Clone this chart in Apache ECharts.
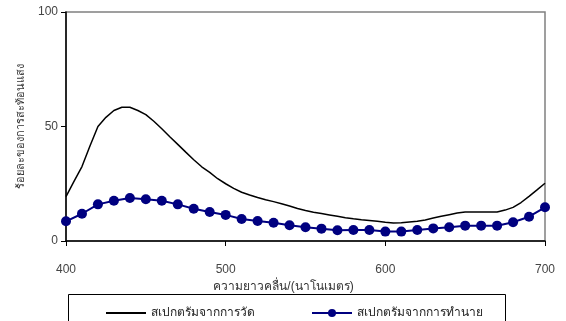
<!DOCTYPE html>
<html><head><meta charset="utf-8">
<script src="https://cdn.jsdelivr.net/npm/echarts@6/dist/echarts.min.js"></script>
<style>html,body{margin:0;padding:0;background:#fff}#c{width:566px;height:321px}</style>
</head><body><div id="c"></div>
<script>
const measuredName = 'สเปกตรัมจากการวัด';
const predictedName = 'สเปกตรัมจากการทำนาย';
const xTitle = 'ความยาวคลื่น/(นาโนเมตร)';
const yTitle = 'ร้อยละของการสะท้อนแสง';

const measuredWl = [400,405,410,415,420,425,430,435,440,445,450,455,460,465,470,475,480,485,490,495,500,505,510,515,520,525,530,535,540,545,550,555,560,565,570,575,580,585,590,595,600,605,610,615,620,625,630,635,640,645,650,655,660,665,670,675,680,685,690,695,700];
const measuredVal = [19.4,26,32.5,41.5,50,54,57,58.4,58.4,57,55.2,52.3,49,45.5,42.2,38.8,35.5,32.4,30,27.2,25,23,21.3,20.1,19,18,17.2,16.3,15.3,14.2,13.3,12.6,12,11.4,10.8,10.2,9.7,9.3,9,8.6,8.2,7.9,8,8.3,8.6,9.2,10,10.8,11.5,12.2,12.7,12.7,12.7,12.7,12.7,13.5,14.7,16.8,19.5,22.3,25.2];

const predictedWl = [400,410,420,430,440,450,460,470,480,490,500,510,520,530,540,550,560,570,580,590,600,610,620,630,640,650,660,670,680,690,700];
const predictedVal = [8.6,11.9,16.0,17.6,18.8,18.2,17.6,16.0,14.1,12.7,11.4,9.6,8.7,8.0,6.9,6.0,5.4,4.7,4.8,4.8,4.1,4.1,4.8,5.5,6.0,6.7,6.7,6.7,8.2,10.6,14.7];

const xTicks = [400,500,600,700];
const yTicks = [0,50,100];

const chart = echarts.init(document.getElementById('c'));
const font = 'Liberation Sans, Arial, sans-serif';
chart.setOption({
  animation: false,
  backgroundColor: '#fff',
  textStyle: {fontFamily: font},
  grid: {left: 66, right: 21, top: 12, bottom: 80, show: true, borderColor: '#808080', borderWidth: 1.5},
  xAxis: {
    type: 'value', min: xTicks[0], max: xTicks[xTicks.length-1], interval: 100,
    name: xTitle, nameLocation: 'middle', nameGap: 35,
    nameTextStyle: {color: '#333', fontSize: 12, padding: [0, 44, 0, 0], fontFamily: font},
    axisLine: {show: true, lineStyle: {color: '#000', width: 1.5}},
    axisTick: {show: true, length: 5, inside: false, lineStyle: {color: '#000'}},
    axisLabel: {color: '#444', fontSize: 12, margin: 23, fontFamily: font},
    splitLine: {show: false}
  },
  yAxis: {
    type: 'value', min: yTicks[0], max: yTicks[yTicks.length-1], interval: 50,
    name: yTitle, nameLocation: 'middle', nameGap: 40, nameRotate: 90,
    nameTextStyle: {color: '#333', fontSize: 11, fontFamily: font},
    axisLine: {show: true, lineStyle: {color: '#000', width: 1.5}},
    axisTick: {show: true, length: 5, lineStyle: {color: '#000'}},
    axisLabel: {color: '#444', fontSize: 12, margin: 8, fontFamily: font},
    splitLine: {show: false}
  },
  legend: {
    left: 100, top: 302, itemWidth: 40, itemHeight: 10, itemGap: 56,
    textStyle: {color: '#222', fontSize: 12, fontFamily: font},
    data: [{name: measuredName, itemStyle: {opacity: 0}}, {name: predictedName}]
  },
  graphic: [{
    type: 'rect', left: 66, top: 292, shape: {width: 437, height: 40},
    style: {fill: 'none', stroke: '#000', lineWidth: 1}, silent: true, z: 0
  }],
  series: [{
    name: measuredName, type: 'line', showSymbol: false, symbol: 'none',
    data: measuredWl.map((w,i)=>[w, measuredVal[i]]),
    lineStyle: {color: '#000', width: 1.5}, itemStyle: {color: '#000'}
  }, {
    name: predictedName, type: 'line', symbol: 'circle', symbolSize: 10,
    data: predictedWl.map((w,i)=>[w, predictedVal[i]]),
    lineStyle: {color: '#000080', width: 2}, itemStyle: {color: '#000080'}
  }]
});
</script></body></html>
